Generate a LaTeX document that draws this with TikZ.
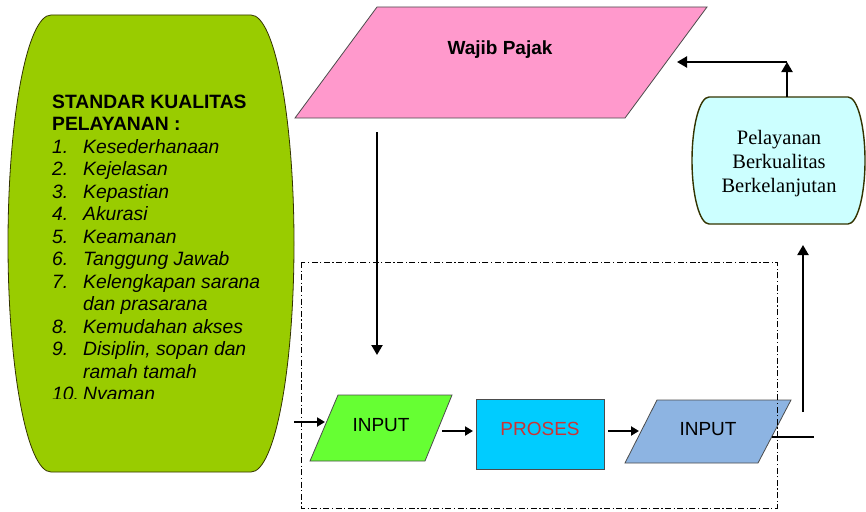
\documentclass[tikz,border=0pt]{standalone}
\usepackage{fontspec}
\setmainfont{Liberation Sans}
\newfontfamily\timesface{Liberation Serif}
\usetikzlibrary{arrows.meta}

\definecolor{limefill}{RGB}{153,204,0}
\definecolor{pinkfill}{RGB}{255,153,204}
\definecolor{greenfill}{RGB}{102,255,51}
\definecolor{procfill}{RGB}{0,204,255}
\definecolor{bluefill}{RGB}{141,180,226}
\definecolor{cyanfill}{RGB}{204,255,255}
\definecolor{proctext}{RGB}{204,51,51}
\definecolor{olive}{RGB}{51,51,0}

\begin{document}
\begin{tikzpicture}[x=1pt,y=-1pt,
  outline/.style={draw=black!70, line width=0.8pt},
  flow/.style={line width=2.1pt, -{Triangle[length=8pt,width=9pt]}},
  bigflow/.style={line width=2.1pt, -{Triangle[length=10pt,width=11pt]}},
  plainline/.style={line width=2.1pt},
  frame/.style={line width=0.9pt, dash pattern=on 6pt off 2.5pt on 1.2pt off 2.5pt},
  head/.style={inner sep=0pt, anchor=base west, font=\fontsize{19.3}{22}\selectfont\bfseries},
  item/.style={inner sep=0pt, anchor=base west, font=\fontsize{19.3}{22}\selectfont\itshape},
  boxtext/.style={inner sep=0pt, anchor=base, font=\fontsize{19}{22}\selectfont},
  serifline/.style={inner sep=0pt, anchor=base, font=\timesface\fontsize{20.5}{24}\selectfont}
]
\useasboundingbox (0,0) rectangle (866,511);

% quality standards panel (flat top and bottom, elliptic sides)
\draw[fill=limefill, draw=olive, line width=0.8pt]
  (51,15) -- (251,15)
  .. controls (274.7,15) and (294,117.3) .. (294,243.5)
  .. controls (294,369.7) and (274.7,472) .. (251,472)
  -- (51,472)
  .. controls (27.3,472) and (8,369.7) .. (8,243.5)
  .. controls (8,117.3) and (27.3,15) .. (51,15) -- cycle;

\node[head] (h1) at (52,108) {STANDAR KUALITAS};
\node[head] (h2) at (52,130.5) {PELAYANAN :};
\node[item] (n1) at (52,153) {1.};   \node[item] (t1) at (83,153) {Kesederhanaan};
\node[item] (n2) at (52,175.5) {2.}; \node[item] (t2) at (83,175.5) {Kejelasan};
\node[item] (n3) at (52,198) {3.};   \node[item] (t3) at (83,198) {Kepastian};
\node[item] (n4) at (52,220.5) {4.}; \node[item] (t4) at (83,220.5) {Akurasi};
\node[item] (n5) at (52,243) {5.};   \node[item] (t5) at (83,243) {Keamanan};
\node[item] (n6) at (52,265.5) {6.}; \node[item] (t6) at (83,265.5) {Tanggung Jawab};
\node[item] (n7) at (52,288) {7.};   \node[item] (t7) at (83,288) {Kelengkapan sarana};
\node[item] (t7b) at (83,310.5) {dan prasarana};
\node[item] (n8) at (52,333) {8.};   \node[item] (t8) at (83,333) {Kemudahan akses};
\node[item] (n9) at (52,355.5) {9.}; \node[item] (t9) at (83,355.5) {Disiplin, sopan dan};
\node[item] (t9b) at (83,378) {ramah tamah};
\begin{scope}
  \clip (40,380) rectangle (290,398);
  \node[item] (n10) at (52,400.5) {10.}; \node[item] (t10) at (83,400.5) {Nyaman};
\end{scope}

% taxpayer
\draw[outline, fill=pinkfill] (377,7) -- (707,7) -- (625,118) -- (295,118) -- cycle;
\node[boxtext, font=\fontsize{19}{22}\selectfont\bfseries] (wp) at (500,55) {Wajib Pajak};

% sustainable service
\draw[fill=cyanfill, draw=olive, line width=1.4pt]
  (709,97) -- (848,97)
  .. controls (857.4,97) and (865,125.7) .. (865,160.5)
  .. controls (865,195.3) and (857.4,224) .. (848,224)
  -- (709,224)
  .. controls (699.6,224) and (692,195.3) .. (692,160.5)
  .. controls (692,125.7) and (699.6,97) .. (709,97) -- cycle;
\node[serifline] (cy1) at (779,144) {Pelayanan};
\node[serifline] (cy2) at (779,168) {Berkualitas};
\node[serifline] (cy3) at (779,192) {Berkelanjutan};

% process row
\draw[outline, fill=greenfill] (338,395) -- (452,395) -- (425,461) -- (310,461) -- cycle;
\node[boxtext] (in1) at (381,431.5) {INPUT};

\draw[outline, fill=procfill] (476,399) rectangle (604,469);
\node[boxtext, text=proctext] (proc) at (540,435) {PROSES};

\draw[outline, fill=bluefill] (657,400) -- (791,400) -- (758,463) -- (625,463) -- cycle;
\node[boxtext] (in2) at (708,435.5) {INPUT};

% dash-dotted frame around the process row
\draw[frame] (301,262) rectangle (777,508);

% connectors
\coordinate (wpOut) at (377,132);
\coordinate (frameIn) at (377,355);
\draw[bigflow] (wpOut) -- (frameIn);

\coordinate (feedStart) at (294,422);
\coordinate (in1W) at (325,422);
\draw[flow] (feedStart) -- (in1W);

\coordinate (in1E) at (442,431);
\coordinate (procW) at (473,431);
\draw[flow] (in1E) -- (procW);

\coordinate (procE) at (608,431);
\coordinate (in2W) at (639,431);
\draw[flow] (procE) -- (in2W);

\coordinate (in2E) at (772,437);
\coordinate (outEnd) at (814,437);
\draw[plainline] (in2E) -- (outEnd);

\coordinate (riseStart) at (803,412);
\coordinate (riseEnd) at (803,245);
\draw[bigflow] (riseStart) -- (riseEnd);

\coordinate (cyTop) at (787,97);
\coordinate (corner) at (787,62);
\coordinate (wpIn) at (677,62);
\draw[bigflow] (cyTop) -- (corner);
\draw[bigflow] (corner) -- (wpIn);
\end{tikzpicture}
\end{document}
